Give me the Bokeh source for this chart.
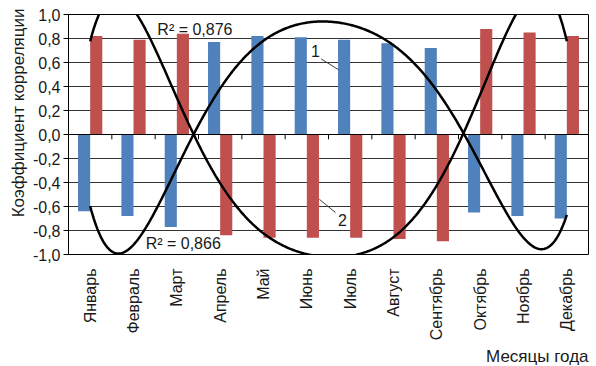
import numpy as np
from bokeh.plotting import figure
from bokeh.models import (Range1d, FixedTicker, CustomJSTickFormatter, Label,
                          ColumnDataSource, Span, Title)
from bokeh.transform import dodge
from bokeh.embed import file_html
from bokeh.resources import INLINE

# ---- data ----
months = ["Январь", "Февраль", "Март", "Апрель", "Май", "Июнь", "Июль",
          "Август", "Сентябрь", "Октябрь", "Ноябрь", "Декабрь"]
series1 = [-0.64, -0.68, -0.77, 0.77, 0.82, 0.81, 0.79, 0.76, 0.72, -0.65, -0.68, -0.70]
series2 = [0.82, 0.79, 0.84, -0.84, -0.86, -0.86, -0.86, -0.87, -0.89, 0.88, 0.85, 0.82]
y_ticks = [-1.0, -0.8, -0.6, -0.4, -0.2, 0.0, 0.2, 0.4, 0.6, 0.8, 1.0]
r2_labels = ["R² = 0,876", "R² = 0,866"]
series_labels = ["1", "2"]
x_title = "Месяцы года"
y_title = "Коэффициент корреляции"

FONT = "Liberation Sans"
TXT = "#1a1a1a"
BLUE = "#4F81BD"
RED = "#C0504D"

idx = list(range(1, len(months) + 1))
src = ColumnDataSource(dict(x=idx, s1=series1, s2=series2))

# polynomial trendlines (order 6), as in the spreadsheet
xs = np.linspace(1, len(months), 400)
fit1 = np.polyval(np.polyfit(idx, series1, 6), xs)
fit2 = np.polyval(np.polyfit(idx, series2, 6), xs)

p = figure(width=596, height=366, x_range=Range1d(0.5, 12.5), y_range=Range1d(-1, 1),
           output_backend="svg", toolbar_location=None,
           min_border_left=68, min_border_right=8, min_border_top=14, min_border_bottom=108,
           background_fill_color="white", border_fill_color="white",
           outline_line_color="black", outline_line_width=1)

p.xgrid.visible = False
p.ygrid.ticker = FixedTicker(ticks=y_ticks)
p.ygrid.grid_line_color = "#333333"
p.ygrid.grid_line_width = 1

ya = p.yaxis[0]
ya.ticker = FixedTicker(ticks=y_ticks)
ya.formatter = CustomJSTickFormatter(code="return tick.toFixed(1).replace('.', ',');")
ya.major_tick_out = 5
ya.major_tick_in = 0
ya.minor_tick_out = 0
ya.minor_tick_in = 0
ya.axis_line_color = "black"
ya.major_tick_line_color = "black"
ya.major_label_text_font = FONT
ya.major_label_text_font_size = "16px"
ya.major_label_text_color = TXT
ya.major_label_standoff = 3

xa = p.xaxis[0]
xa.ticker = FixedTicker(ticks=idx)
xa.major_label_overrides = {i: m for i, m in zip(idx, months)}
xa.major_label_orientation = np.pi / 2
xa.major_tick_out = 0
xa.major_tick_in = 0
xa.minor_tick_out = 0
xa.minor_tick_in = 0
xa.axis_line_color = None
xa.major_label_standoff = 14
xa.major_label_text_font = FONT
xa.major_label_text_font_size = "16px"
xa.major_label_text_color = TXT

p.vbar(x=dodge("x", -0.14, range=p.x_range), top="s1", width=0.28, source=src,
       fill_color=BLUE, line_color=None)
p.vbar(x=dodge("x", 0.14, range=p.x_range), top="s2", width=0.28, source=src,
       fill_color=RED, line_color=None)

p.add_layout(Span(location=0, dimension="width", line_color="black", line_width=1))
bounds = [i + 0.5 for i in idx[:-1]]
p.segment(x0=bounds, y0=[0] * len(bounds), x1=bounds, y1=[-0.04] * len(bounds),
          line_color="black", line_width=1)

p.line(xs, fit1, line_color="black", line_width=2.5)
p.line(xs, fit2, line_color="black", line_width=2.5)

# leader lines for series labels
p.segment(x0=[6.33, 6.66], y0=[0.63, -0.65], x1=[6.73, 6.29], y1=[0.54, -0.54],
          line_color="#404040", line_width=1)

lab_kw = dict(text_font=FONT, text_font_size="16px", text_color=TXT)
p.add_layout(Label(x=6.2, y=0.70, text=series_labels[0], text_align="center",
                   text_baseline="middle", **lab_kw))
p.add_layout(Label(x=6.82, y=-0.71, text=series_labels[1], text_align="center",
                   text_baseline="middle", **lab_kw))
p.add_layout(Label(x=2.55, y=0.876, text=r2_labels[0], text_align="left",
                   text_baseline="middle", **lab_kw))
p.add_layout(Label(x=2.28, y=-0.905, text=r2_labels[1], text_align="left",
                   text_baseline="middle", **lab_kw))

title_kw = dict(text_font=FONT, text_font_size="17px", text_color=TXT,
                text_font_style="normal")
p.add_layout(Title(text=x_title, align="right", standoff=2, **title_kw), "below")
p.add_layout(Title(text=y_title, align="right", offset=-6, standoff=3, **title_kw), "left")

open("out.html", "w").write(file_html(p, INLINE))
